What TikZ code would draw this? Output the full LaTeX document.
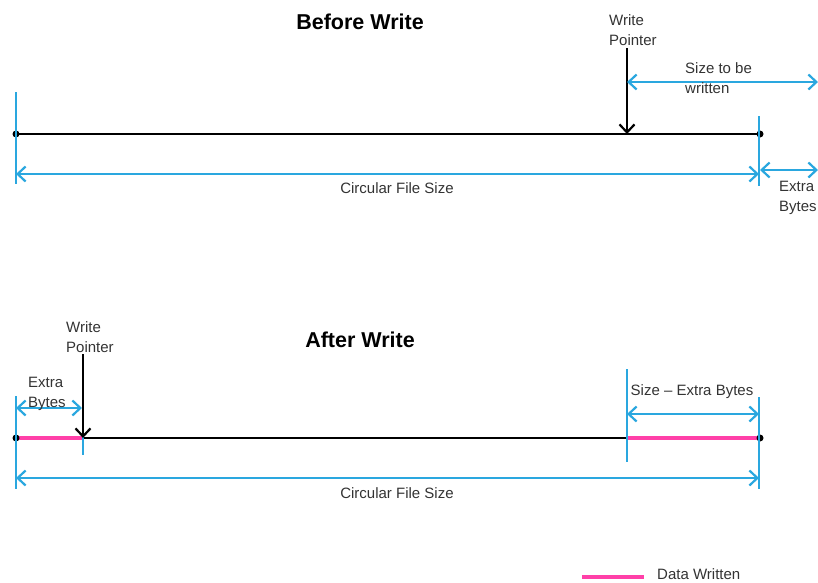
\documentclass[tikz,border=0pt]{standalone}
\usepackage{fontspec}
\setmainfont{Liberation Sans}
\usetikzlibrary{arrows.meta}
\definecolor{skyblue}{HTML}{2AA7DF}
\definecolor{datapink}{HTML}{FF40A8}
\definecolor{inkgray}{HTML}{333333}
\tikzset{
  lbl/.style={font=\fontsize{15}{20}\selectfont,text=inkgray,inner sep=0pt,align=left},
  ttl/.style={font=\fontsize{21.5}{24}\selectfont\bfseries,text=black,inner sep=0pt},
  tick/.style={skyblue,line width=2.2pt},
  dim/.style={skyblue,line width=2.2pt,{Straight Barb[length=8pt,width=15pt]}-{Straight Barb[length=8pt,width=15pt]}},
  file/.style={black,line width=2.8pt},
  data/.style={datapink,line width=4.5pt},
  ptr/.style={black,line width=2.2pt,-{Straight Barb[length=8pt,width=15pt]}},
}
\begin{document}
\begin{tikzpicture}[x=1pt,y=-1pt]
\useasboundingbox (0,0) rectangle (818,582);

% before write
\node[ttl] (t1) at (360,22) {Before Write};
\coordinate (s1) at (16,134);
\coordinate (e1) at (760,134);
\draw[file] (s1) -- (e1);
\fill (s1) circle (3.5); \fill (e1) circle (3.5);
\draw[tick] (16,92) -- (16,184);
\draw[tick] (759,116) -- (759,186);
\node[lbl,anchor=north west] (wp1) at (609,14.5) {Write\\Pointer};
\draw[ptr] (627,48) -- (627,134);
\draw[dim] (627,82) -- (818,82);
\node[lbl,anchor=west] (sz) at (685,78) {Size to be\\written};
\draw[dim] (16,174) -- (759,174);
\node[lbl] (cf1) at (397,188) {Circular File Size};
\draw[dim] (760,170) -- (818,170);
\node[lbl,anchor=north west] (eb1) at (779,180.5) {Extra\\Bytes};

% after write
\node[ttl] (t2) at (360,340) {After Write};
\coordinate (s2) at (16,438);
\coordinate (p2) at (83,438);
\coordinate (q2) at (627,438);
\coordinate (e2) at (760,438);
\draw[file] (p2) -- (q2);
\draw[data] (s2) -- (p2);
\draw[data] (q2) -- (e2);
\fill (s2) circle (3.5); \fill (e2) circle (3.5);
\draw[tick] (16,396) -- (16,489);
\draw[tick] (83,400) -- (83,455);
\draw[tick] (627,369) -- (627,462);
\draw[tick] (759,397) -- (759,489);
\node[lbl,anchor=north west] (wp2) at (66,321.5) {Write\\Pointer};
\draw[ptr] (83,354) -- (p2);
\draw[dim] (16,408) -- (82,408);
\node[lbl,anchor=north west] (eb2) at (28,376.5) {Extra\\Bytes};
\draw[dim] (627,414) -- (759,414);
\node[lbl] (sx) at (692,392) {Size -- Extra Bytes};
\draw[dim] (16,478) -- (759,478);
\node[lbl] (cf2) at (397,493) {Circular File Size};

% legend
\draw[data] (582,577) -- (644,577);
\node[lbl,anchor=west] (lg) at (657,574) {Data Written};
\end{tikzpicture}
\end{document}
